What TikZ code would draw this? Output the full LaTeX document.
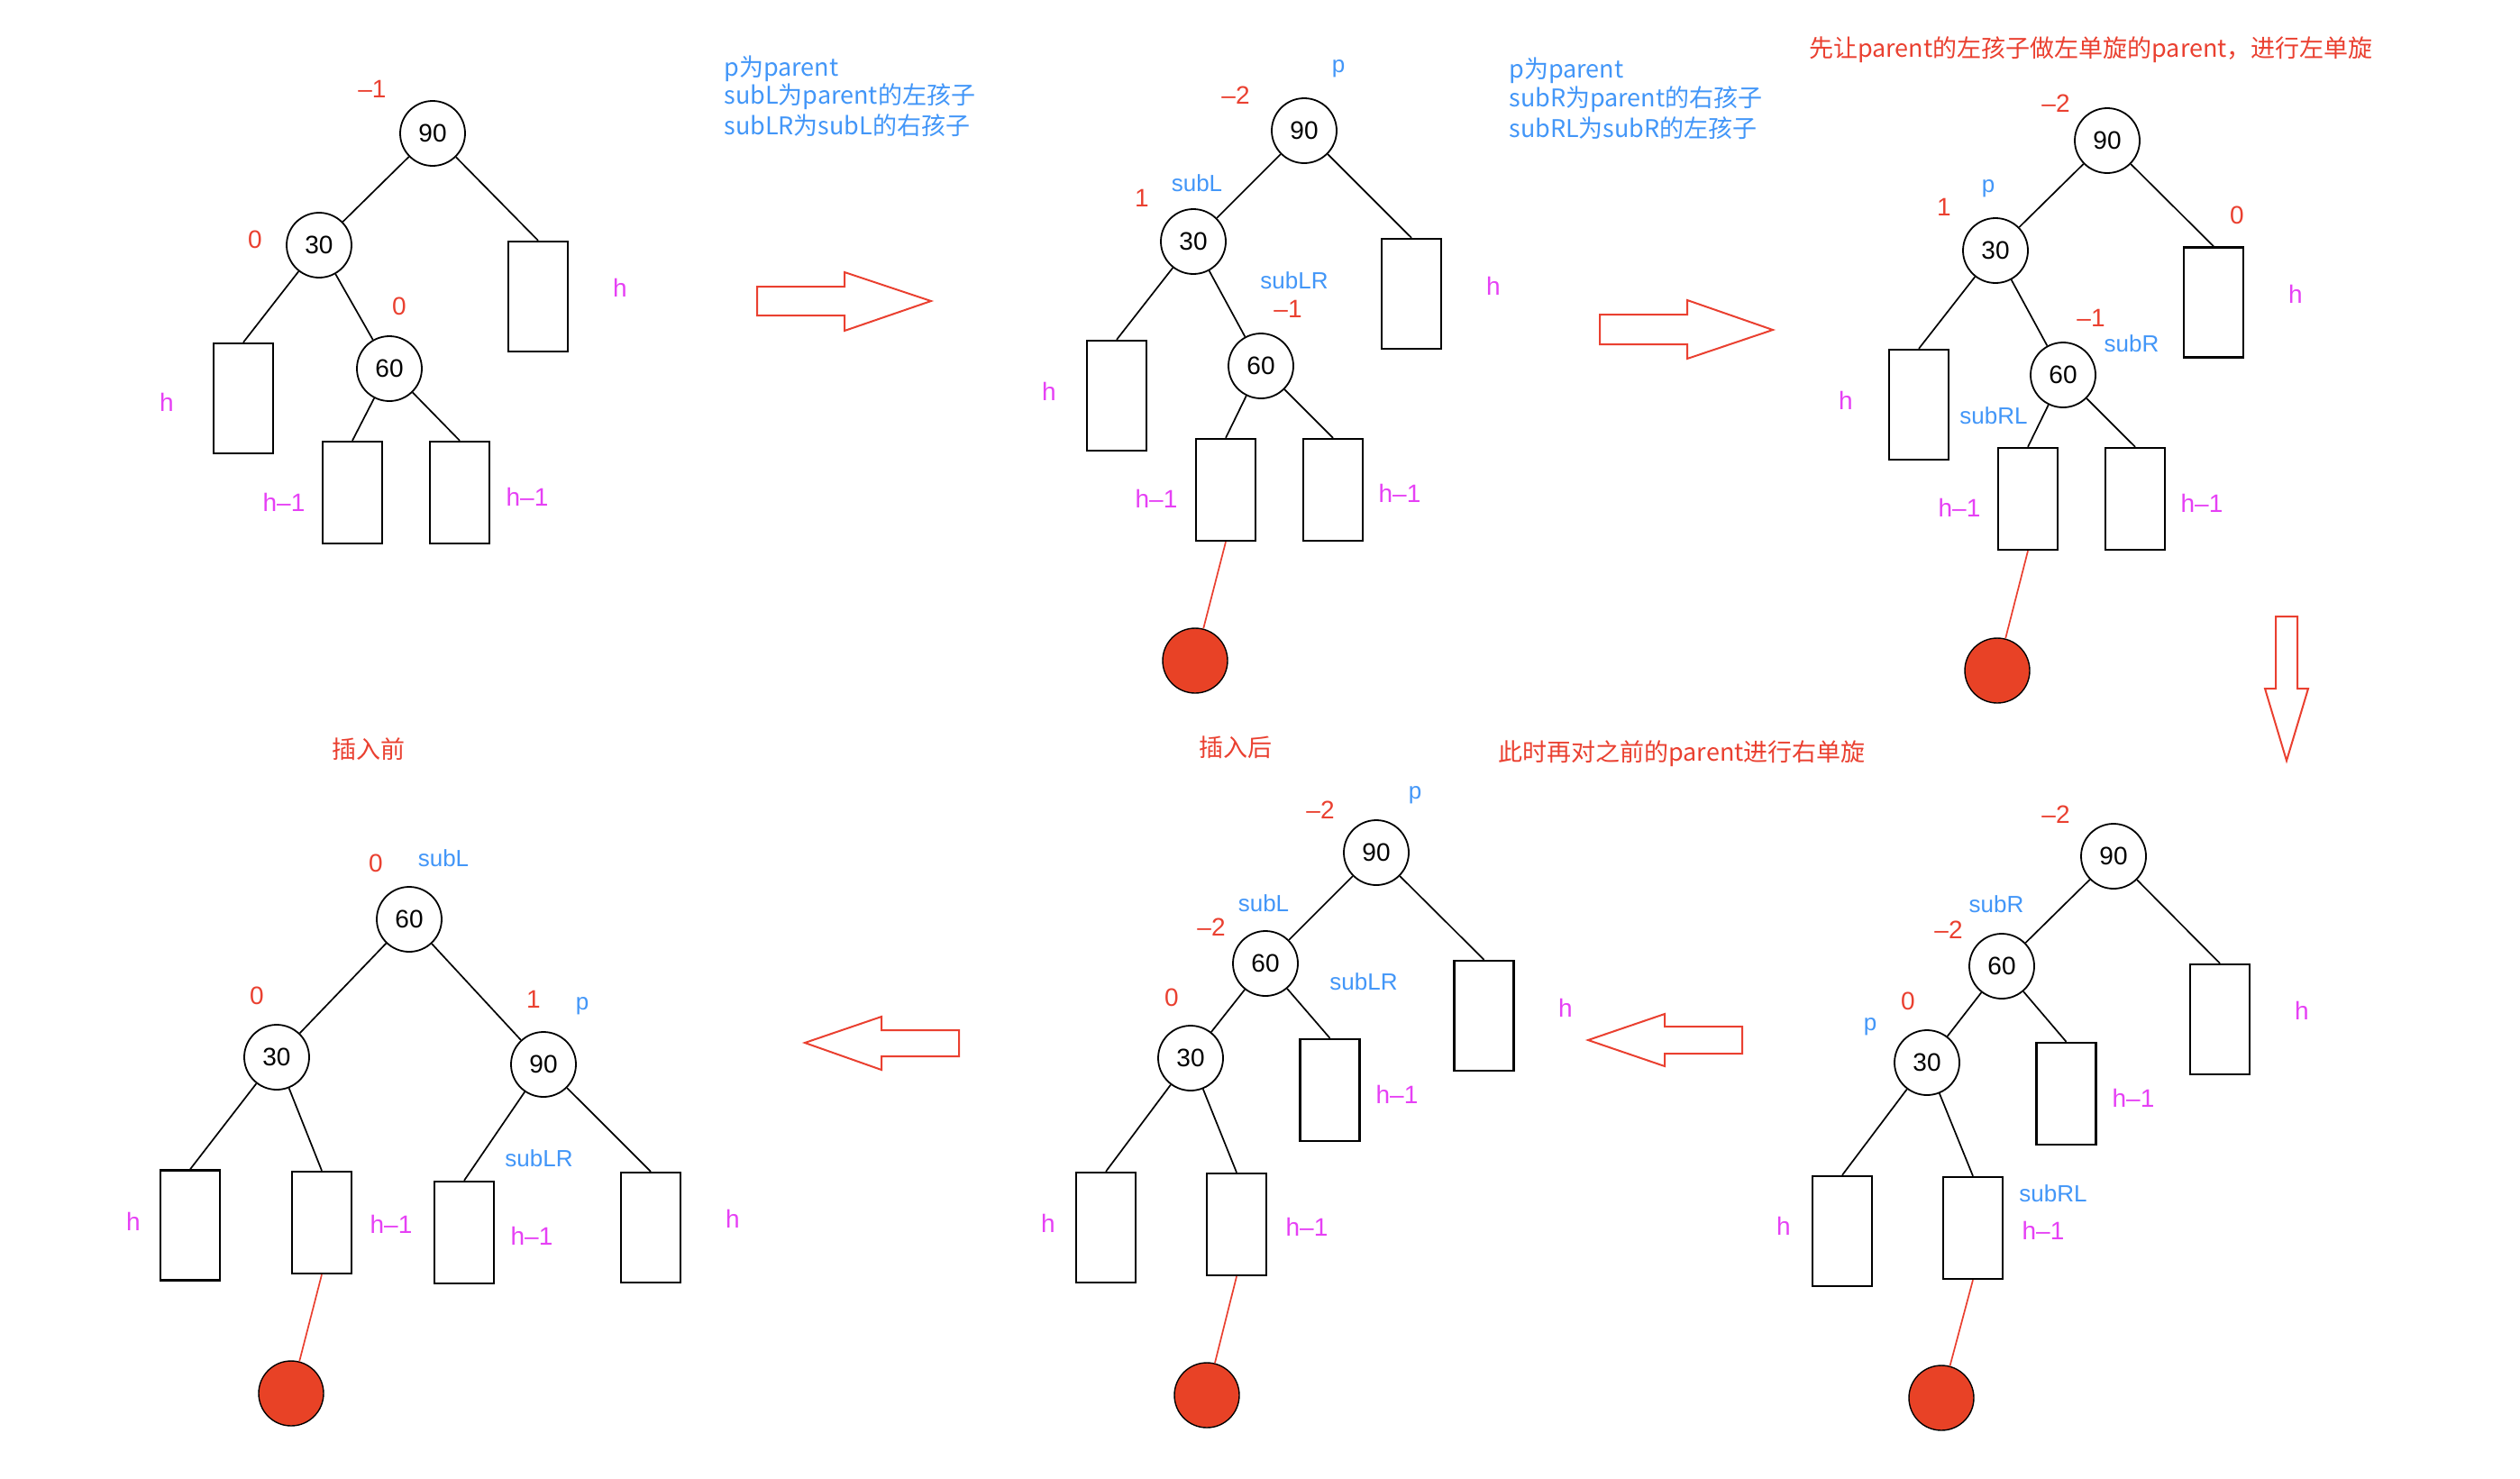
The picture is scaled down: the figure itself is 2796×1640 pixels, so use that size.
\documentclass[tikz,border=0pt]{standalone}
\usepackage{fontspec}
\setmainfont{Liberation Sans}
\newfontfamily\cjk{Noto Sans CJK SC}
\definecolor{lblred}{RGB}{234,64,48}
\definecolor{lblblue}{RGB}{66,150,248}
\definecolor{lblmag}{RGB}{230,64,245}
\definecolor{dotred}{RGB}{232,66,38}
\tikzset{
  key/.style={circle,draw,line width=0.9pt,minimum size=36pt,inner sep=0pt,font=\fontsize{14}{16}\selectfont},
  hbox/.style={rectangle,draw,line width=1.2pt,minimum width=33pt,minimum height=61pt,inner sep=0pt},
  hmbox/.style={rectangle,draw,line width=1.2pt,minimum width=33pt,minimum height=56.5pt,inner sep=0pt},
  newdot/.style={circle,draw,line width=0.7pt,fill=dotred,minimum size=36pt,inner sep=0pt},
  edge/.style={line width=0.85pt},
  redge/.style={line width=0.85pt,draw=lblred},
  bal/.style={text=lblred,inner sep=0pt,font=\fontsize{14}{16}\selectfont},
  ptr/.style={text=lblblue,inner sep=0pt,font=\fontsize{13}{15}\selectfont},
  hgt/.style={text=lblmag,inner sep=0pt,font=\fontsize{14}{16}\selectfont},
  note/.style={text=lblblue,inner sep=0pt,anchor=west,font=\cjk\fontsize{13.5}{16}\selectfont},
  title/.style={text=lblred,inner sep=0pt,font=\cjk\fontsize{13.5}{16}\selectfont},
  bigarrow/.style={draw=lblred,line width=1pt,line join=miter}
}
\begin{document}
\begin{tikzpicture}[x=0.5pt,y=-0.5pt]
\useasboundingbox[fill=white] (0,0) rectangle (2796,1640);

% ---------- Panel 1 (before insertion) ----------
\node[key] (A90) at (480,148) {90};
\node[key] (A30) at (354,272) {30};
\node[key] (A60) at (432,409) {60};
\node[hbox] (AL) at (270,442) {};
\node[hbox] (AR) at (597,329) {};
\node[hmbox] (AB1) at (391,546.5) {};
\node[hmbox] (AB2) at (510,546.5) {};
\draw[edge] (A90) -- (A30);
\draw[edge] (A90) -- (AR.north);
\draw[edge] (A30) -- (AL.north);
\draw[edge] (A30) -- (A60);
\draw[edge] (A60) -- (AB1.north);
\draw[edge] (A60) -- (AB2.north);
\node[bal] (Ab1) at (413,99) {–1};
\node[bal] (Ab2) at (283,266) {0};
\node[bal] (Ab3) at (443,340) {0};
\node[hgt] (Ah1) at (688,319) {h};
\node[hgt] (Ah2) at (185,446) {h};
\node[hgt] (Ah3) at (315,557) {h–1};
\node[hgt] (Ah4) at (585,551) {h–1};
\node[note] (N1a) at (803,76) {p为parent};
\node[note] (N1b) at (803,107) {subL为parent的左孩子};
\node[note] (N1c) at (803,139) {subLR为subL的右孩子};

% ---------- Panel 2 (after insertion) ----------
\node[key] (B90) at (1447,145) {90};
\node[key] (B30) at (1324,268) {30};
\node[key] (B60) at (1399,406) {60};
\node[hbox] (BL) at (1239,439) {};
\node[hbox] (BR) at (1566,326) {};
\node[hmbox] (BB1) at (1360,543.5) {};
\node[hmbox] (BB2) at (1479,543.5) {};
\node[newdot] (Bdot) at (1326,733) {};
\draw[edge] (B90) -- (B30);
\draw[edge] (B90) -- (BR.north);
\draw[edge] (B30) -- (BL.north);
\draw[edge] (B30) -- (B60);
\draw[edge] (B60) -- (BB1.north);
\draw[edge] (B60) -- (BB2.north);
\draw[redge] (BB1.south) -- (Bdot);
\node[ptr] (Bp1) at (1485,76) {p};
\node[bal] (Bb1) at (1371,106) {–2};
\node[ptr] (Bp2) at (1328,203) {subL};
\node[bal] (Bb2) at (1267,220) {1};
\node[ptr] (Bp3) at (1436,311) {subLR};
\node[bal] (Bb3) at (1429,343) {–1};
\node[hgt] (Bh1) at (1164,434) {h};
\node[hgt] (Bh2) at (1657,317) {h};
\node[hgt] (Bh3) at (1283,553) {h–1};
\node[hgt] (Bh4) at (1553,547) {h–1};
\node[note] (N2a) at (1674,78) {p为parent};
\node[note] (N2b) at (1674,110) {subR为parent的右孩子};
\node[note] (N2c) at (1674,142) {subRL为subR的左孩子};

% ---------- Panel 3 (left rotation on subtree) ----------
\node[title] (T1) at (2320,55) {先让parent的左孩子做左单旋的parent，进行左单旋};
\node[key] (C90) at (2338,156) {90};
\node[key] (C30) at (2214,278) {30};
\node[key] (C60) at (2289,416) {60};
\node[hbox] (CL) at (2129,449) {};
\node[hbox] (CR) at (2456,335.5) {};
\node[hmbox] (CB1) at (2250,553.5) {};
\node[hmbox] (CB2) at (2369,553.5) {};
\node[newdot] (Cdot) at (2216,744) {};
\draw[edge] (C90) -- (C30);
\draw[edge] (C90) -- (CR.north);
\draw[edge] (C30) -- (CL.north);
\draw[edge] (C30) -- (C60);
\draw[edge] (C60) -- (CB1.north);
\draw[edge] (C60) -- (CB2.north);
\draw[redge] (CB1.south) -- (Cdot);
\node[bal] (Cb1) at (2281,115) {–2};
\node[ptr] (Cp1) at (2206,209) {p};
\node[bal] (Cb2) at (2157,230) {1};
\node[bal] (Cb3) at (2482,239) {0};
\node[hgt] (Ch1) at (2547,326) {h};
\node[bal] (Cb4) at (2320,353) {–1};
\node[ptr] (Cp2) at (2365,381) {subR};
\node[hgt] (Ch2) at (2048,444) {h};
\node[ptr] (Cp3) at (2212,461) {subRL};
\node[hgt] (Ch3) at (2174,563) {h–1};
\node[hgt] (Ch4) at (2443,558) {h–1};

% ---------- Panel 4 (result) ----------
\node[title] (T3) at (409,831) {插入前};
\node[key] (D60) at (454,1020) {60};
\node[key] (D30) at (307,1173) {30};
\node[key] (D90) at (603,1181) {90};
\node[hbox] (DL) at (211,1359.5) {};
\node[hmbox] (D1) at (357,1356.5) {};
\node[hmbox] (D2) at (515,1367.5) {};
\node[hbox] (DR) at (722,1362) {};
\node[newdot] (Ddot) at (323,1546) {};
\draw[edge] (D60) -- (D30);
\draw[edge] (D60) -- (D90);
\draw[edge] (D30) -- (DL.north);
\draw[edge] (D30) -- (D1.north);
\draw[edge] (D90) -- (D2.north);
\draw[edge] (D90) -- (DR.north);
\draw[redge] (D1.south) -- (Ddot);
\node[bal] (Db1) at (417,958) {0};
\node[ptr] (Dp1) at (492,952) {subL};
\node[bal] (Db2) at (285,1105) {0};
\node[bal] (Db3) at (592,1109) {1};
\node[ptr] (Dp2) at (646,1116) {p};
\node[ptr] (Dp3) at (598,1285) {subLR};
\node[hgt] (Dh1) at (148,1355) {h};
\node[hgt] (Dh2) at (434,1358) {h–1};
\node[hgt] (Dh3) at (590,1371) {h–1};
\node[hgt] (Dh4) at (813,1352) {h};

% ---------- Panel 5 ----------
\node[title] (T4) at (1371,829) {插入后};
\node[title] (T2) at (1866,836) {此时再对之前的parent进行右单旋};
\node[key] (E90) at (1527,946) {90};
\node[key] (E60) at (1404,1069) {60};
\node[key] (E30) at (1321,1174) {30};
\node[hbox] (ER) at (1646.5,1127) {};
\node[hmbox] (E60R) at (1475.5,1209.5) {};
\node[hbox] (EL) at (1227,1362) {};
\node[hmbox] (EB) at (1372,1358.5) {};
\node[newdot] (Edot) at (1339,1548) {};
\draw[edge] (E90) -- (E60);
\draw[edge] (E90) -- (ER.north);
\draw[edge] (E60) -- (E30);
\draw[edge] (E60) -- (E60R.north);
\draw[edge] (E30) -- (EL.north);
\draw[edge] (E30) -- (EB.north);
\draw[redge] (EB.south) -- (Edot);
\node[ptr] (Ep1) at (1570,882) {p};
\node[bal] (Eb1) at (1465,899) {–2};
\node[ptr] (Ep2) at (1402,1002) {subL};
\node[bal] (Eb2) at (1344,1029) {–2};
\node[ptr] (Ep3) at (1513,1089) {subLR};
\node[bal] (Eb3) at (1300,1107) {0};
\node[hgt] (Eh1) at (1737,1118) {h};
\node[hgt] (Eh2) at (1550,1214) {h–1};
\node[hgt] (Eh3) at (1163,1357) {h};
\node[hgt] (Eh4) at (1450,1361) {h–1};

% ---------- Panel 6 ----------
\node[key] (F90) at (2345,950) {90};
\node[key] (F60) at (2221,1072) {60};
\node[key] (F30) at (2138,1179) {30};
\node[hbox] (FR) at (2463,1131) {};
\node[hmbox] (F60R) at (2292.5,1213.5) {};
\node[hbox] (FL) at (2044,1366) {};
\node[hmbox] (FB) at (2189,1362.5) {};
\node[newdot] (Fdot) at (2154,1551) {};
\draw[edge] (F90) -- (F60);
\draw[edge] (F90) -- (FR.north);
\draw[edge] (F60) -- (F30);
\draw[edge] (F60) -- (F60R.north);
\draw[edge] (F30) -- (FL.north);
\draw[edge] (F30) -- (FB.north);
\draw[redge] (FB.south) -- (Fdot);
\node[bal] (Fb1) at (2281,904) {–2};
\node[ptr] (Fp1) at (2215,1003) {subR};
\node[bal] (Fb2) at (2162,1032) {–2};
\node[bal] (Fb3) at (2117,1111) {0};
\node[ptr] (Fp2) at (2075,1139) {p};
\node[hgt] (Fh1) at (2554,1121) {h};
\node[hgt] (Fh2) at (2367,1218) {h–1};
\node[hgt] (Fh3) at (1979,1360) {h};
\node[ptr] (Fp3) at (2278,1324) {subRL};
\node[hgt] (Fh4) at (2267,1365) {h–1};

% ---------- Block arrows ----------
\draw[bigarrow] (840,318) -- (937,318) -- (937,302) -- (1033,334) -- (937,367) -- (937,350) -- (840,350) -- cycle;
\draw[bigarrow] (1775,349) -- (1872,349) -- (1872,333) -- (1967,366) -- (1872,398) -- (1872,382) -- (1775,382) -- cycle;
\draw[bigarrow] (2525,684) -- (2549,684) -- (2549,764) -- (2561,764) -- (2537,844) -- (2513,764) -- (2525,764) -- cycle;
\draw[bigarrow] (1933,1139) -- (1847,1139) -- (1847,1125) -- (1762,1154) -- (1847,1183) -- (1847,1169) -- (1933,1169) -- cycle;
\draw[bigarrow] (1064,1143) -- (978,1143) -- (978,1128) -- (893,1157) -- (978,1187) -- (978,1172) -- (1064,1172) -- cycle;
\end{tikzpicture}
\end{document}
